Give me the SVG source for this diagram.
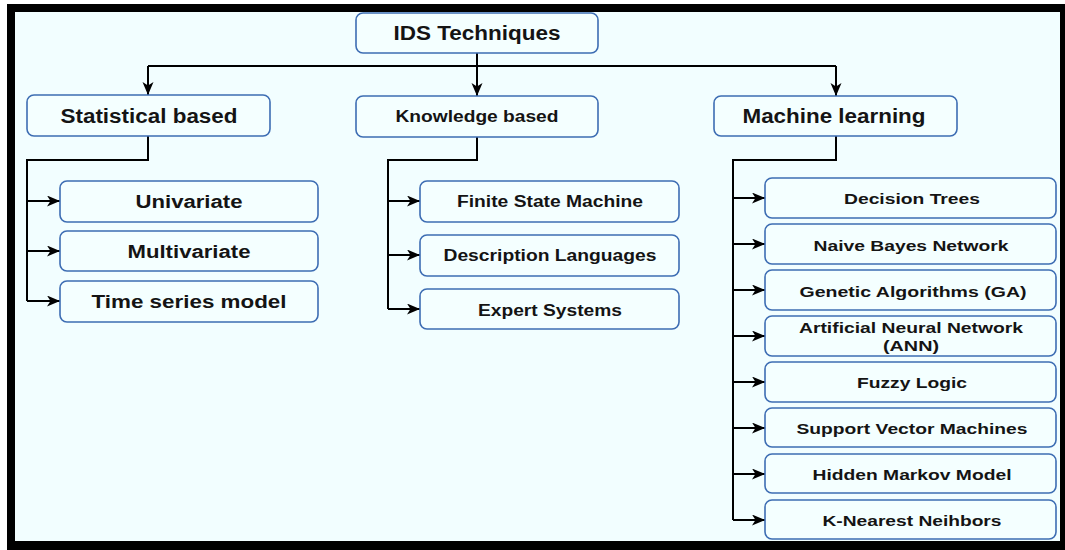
<svg xmlns="http://www.w3.org/2000/svg" width="1065" height="550" viewBox="0 0 1065 550">
<defs>
<style>
.box{fill:#f4ffff;stroke:#3d6db3;stroke-width:1.6}
.t{font-family:"Liberation Sans",Arial,sans-serif;font-weight:bold;fill:#141414;text-anchor:middle}
.big{font-size:20px}
.mid{font-size:18px}
.sm{font-size:16px}
.xs{font-size:15.5px}
.wire{fill:none;stroke:#000;stroke-width:2}
</style>
<marker id="arr" markerUnits="userSpaceOnUse" markerWidth="14" markerHeight="12" refX="13" refY="5.5" orient="auto">
<path d="M0,0 L13,5.5 L0,11 L3.5,5.5 Z" fill="#000"/>
</marker>
</defs>
<rect x="0" y="0" width="1065" height="550" fill="#ffffff"/>
<rect x="7" y="4" width="1058" height="546" fill="#000"/>
<rect x="15" y="12" width="1045" height="529" fill="#f2feff"/>

<g id="connectors">
<path class="wire" d="M477,53 V96" marker-end="url(#arr)"/>
<path class="wire" d="M148,66 H836"/>
<path class="wire" d="M148,66 V95" marker-end="url(#arr)"/>
<path class="wire" d="M836,66 V96" marker-end="url(#arr)"/>

<path class="wire" d="M148,136 V160 H27 V301"/>
<path class="wire" d="M27,201 H60" marker-end="url(#arr)"/>
<path class="wire" d="M27,251 H60" marker-end="url(#arr)"/>
<path class="wire" d="M27,301 H60" marker-end="url(#arr)"/>

<path class="wire" d="M477,137 V160 H388 V309"/>
<path class="wire" d="M388,201 H420" marker-end="url(#arr)"/>
<path class="wire" d="M388,255 H420" marker-end="url(#arr)"/>
<path class="wire" d="M388,309 H420" marker-end="url(#arr)"/>

<path class="wire" d="M836,136 V160 H733 V520"/>
<path class="wire" d="M733,198 H765" marker-end="url(#arr)"/>
<path class="wire" d="M733,244 H765" marker-end="url(#arr)"/>
<path class="wire" d="M733,290 H765" marker-end="url(#arr)"/>
<path class="wire" d="M733,336 H765" marker-end="url(#arr)"/>
<path class="wire" d="M733,382 H765" marker-end="url(#arr)"/>
<path class="wire" d="M733,428 H765" marker-end="url(#arr)"/>
<path class="wire" d="M733,474 H765" marker-end="url(#arr)"/>
<path class="wire" d="M733,520 H765" marker-end="url(#arr)"/>
</g>

<g id="ids-techniques"><rect class="box" x="356" y="13" width="242" height="40" rx="7"/><text class="t big" x="477" y="40" textLength="167" lengthAdjust="spacingAndGlyphs">IDS Techniques</text></g>

<g id="statistical-based"><rect class="box" x="27" y="95" width="243" height="41" rx="7"/><text class="t big" x="149" y="123" textLength="177" lengthAdjust="spacingAndGlyphs">Statistical based</text></g>
<g id="knowledge-based"><rect class="box" x="356" y="96" width="242" height="41" rx="7"/><text class="t sm" x="477" y="122" textLength="163" lengthAdjust="spacingAndGlyphs">Knowledge based</text></g>
<g id="machine-learning"><rect class="box" x="714" y="96" width="243" height="40" rx="7"/><text class="t big" x="834" y="123" textLength="183" lengthAdjust="spacingAndGlyphs">Machine learning</text></g>

<g id="univariate"><rect class="box" x="60" y="181" width="258" height="41" rx="7"/><text class="t mid" x="189" y="207.5" textLength="107" lengthAdjust="spacingAndGlyphs">Univariate</text></g>
<g id="multivariate"><rect class="box" x="60" y="231" width="258" height="40" rx="7"/><text class="t mid" x="189" y="258" textLength="123" lengthAdjust="spacingAndGlyphs">Multivariate</text></g>
<g id="time-series-model"><rect class="box" x="60" y="281" width="258" height="41" rx="7"/><text class="t mid" x="189" y="307.5" textLength="195" lengthAdjust="spacingAndGlyphs">Time series model</text></g>

<g id="finite-state-machine"><rect class="box" x="420" y="181" width="259" height="41" rx="7"/><text class="t sm" x="550" y="206.5" textLength="186" lengthAdjust="spacingAndGlyphs">Finite State Machine</text></g>
<g id="description-languages"><rect class="box" x="420" y="235" width="259" height="41" rx="7"/><text class="t sm" x="550" y="261" textLength="213" lengthAdjust="spacingAndGlyphs">Description Languages</text></g>
<g id="expert-systems"><rect class="box" x="420" y="289" width="259" height="40" rx="7"/><text class="t sm" x="550" y="315.5" textLength="144" lengthAdjust="spacingAndGlyphs">Expert Systems</text></g>

<g id="decision-trees"><rect class="box" x="765" y="178" width="291" height="40" rx="7"/><text class="t xs" x="912" y="204" textLength="136" lengthAdjust="spacingAndGlyphs">Decision Trees</text></g>
<g id="naive-bayes-network"><rect class="box" x="765" y="224" width="291" height="40" rx="7"/><text class="t xs" x="911" y="250.5" textLength="195" lengthAdjust="spacingAndGlyphs">Naive Bayes Network</text></g>
<g id="genetic-algorithms"><rect class="box" x="765" y="270" width="291" height="40" rx="7"/><text class="t xs" x="913" y="296.5" textLength="227" lengthAdjust="spacingAndGlyphs">Genetic Algorithms (GA)</text></g>
<g id="ann"><rect class="box" x="765" y="316" width="291" height="40" rx="7"/><text class="t xs" x="911" y="332.5" textLength="224" lengthAdjust="spacingAndGlyphs">Artificial Neural Network</text><text class="t xs" x="911" y="350.5" textLength="56" lengthAdjust="spacingAndGlyphs">(ANN)</text></g>
<g id="fuzzy-logic"><rect class="box" x="765" y="362" width="291" height="40" rx="7"/><text class="t xs" x="912" y="387.5" textLength="110" lengthAdjust="spacingAndGlyphs">Fuzzy Logic</text></g>
<g id="support-vector-machines"><rect class="box" x="765" y="408" width="291" height="39" rx="7"/><text class="t xs" x="912" y="433.5" textLength="231" lengthAdjust="spacingAndGlyphs">Support Vector Machines</text></g>
<g id="hidden-markov-model"><rect class="box" x="765" y="454" width="291" height="39" rx="7"/><text class="t xs" x="912" y="479.5" textLength="199" lengthAdjust="spacingAndGlyphs">Hidden Markov Model</text></g>
<g id="k-nearest-neihbors"><rect class="box" x="765" y="500" width="291" height="39" rx="7"/><text class="t xs" x="912" y="525.5" textLength="179" lengthAdjust="spacingAndGlyphs">K-Nearest Neihbors</text></g>
</svg>
